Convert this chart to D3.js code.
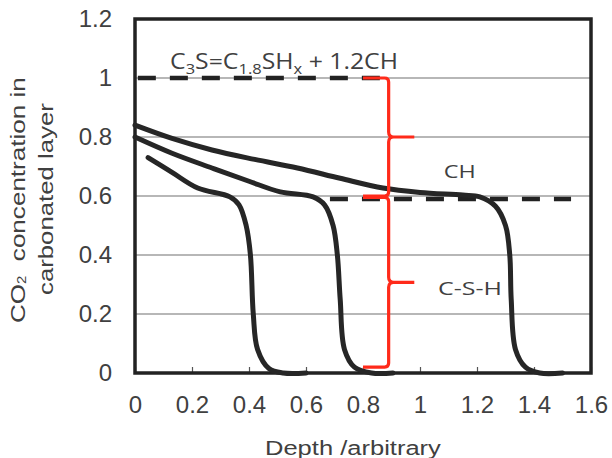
<!DOCTYPE html>
<html>
<head>
<meta charset="utf-8">
<script src="https://cdn.jsdelivr.net/npm/d3@7"></script>
<style>
  body { margin: 0; background: #fff; }
</style>
</head>
<body>
<svg id="chart" width="612" height="458"></svg>
<script>
// data
const xTicks = [0, 0.2, 0.4, 0.6, 0.8, 1, 1.2, 1.4, 1.6];
const yTicks = [0, 0.2, 0.4, 0.6, 0.8, 1, 1.2];

// profile at longest exposure
const depthLong = [0, 0.13, 0.27, 0.42, 0.57, 0.72, 0.87, 1.0, 1.15, 1.21, 1.265, 1.30, 1.315, 1.32, 1.335, 1.37, 1.42, 1.50];
const concLong  = [0.84, 0.795, 0.756, 0.724, 0.695, 0.660, 0.627, 0.612, 0.603, 0.597, 0.565, 0.50, 0.40, 0.25, 0.08, 0.02, 0.0, 0.0];

// profile at medium exposure
const depthMid = [0, 0.13, 0.27, 0.40, 0.51, 0.625, 0.665, 0.695, 0.71, 0.72, 0.735, 0.77, 0.83, 0.905];
const concMid  = [0.80, 0.745, 0.695, 0.65, 0.614, 0.597, 0.57, 0.50, 0.40, 0.25, 0.08, 0.02, 0, 0];

// profile at short exposure
const depthShort = [0.046, 0.13, 0.22, 0.333, 0.365, 0.39, 0.405, 0.415, 0.43, 0.47, 0.52, 0.60];
const concShort  = [0.73, 0.68, 0.627, 0.597, 0.57, 0.50, 0.40, 0.20, 0.08, 0.015, 0, 0];

// dashed reference levels
const levelTop = {y: 1.0, from: 0.01, to: 0.87};
const levelCH  = {y: 0.59, from: 0.684, to: 1.53};

// braces: [top, bottom] in concentration units
const braceX = 0.89;
const braces = [[1.0, 0.6], [0.595, 0.02]];

const width = 612, height = 458;
const margin = {left: 135, right: 21, top: 19, bottom: 85};
const w = width - margin.left - margin.right;
const h = height - margin.top - margin.bottom;

const axisFont = '"Liberation Sans", Arial, sans-serif';
const noteFont = '"Open Sans", sans-serif';
const textColor = '#404040';

const svg = d3.select('#chart');
const g = svg.append('g').attr('transform', `translate(${margin.left},${margin.top})`);

const x = d3.scaleLinear().domain([0, 1.6]).range([0, w]);
const y = d3.scaleLinear().domain([0, 1.2]).range([h, 0]);

//stretch a text node along its own direction to a target length
function fitLength(sel, target) {
  const n = sel.node();
  const len = n.getComputedTextLength();
  const k = target / len;
  const prev = sel.attr('transform') || '';
  sel.attr('transform', prev + ` scale(${k},1)`);
}

//grid lines
g.append('g').selectAll('line')
  .data(yTicks.slice(1, -1))
  .enter().append('line')
  .attr('x1', 0).attr('x2', w)
  .attr('y1', d => y(d)).attr('y2', d => y(d))
  .attr('stroke', '#707070').attr('stroke-width', 1.2);

//x axis, ticks pointing into the plot
const xAxis = g.append('g')
  .attr('transform', `translate(0,${h})`)
  .call(d3.axisBottom(x).tickValues(xTicks).tickSize(-6).tickPadding(23)
    .tickFormat(d => d3.format('~g')(d)));
xAxis.select('.domain').remove();
xAxis.selectAll('line').attr('stroke', '#555').attr('stroke-width', 1.2);
xAxis.selectAll('text')
  .attr('font-family', axisFont)
  .attr('font-size', 24).attr('fill', textColor);

const yAxis = g.append('g')
  .call(d3.axisLeft(y).tickValues(yTicks).tickSize(0).tickPadding(23)
    .tickFormat(d => d3.format('~g')(d)));
yAxis.select('.domain').remove();
yAxis.selectAll('text')
  .attr('font-family', axisFont)
  .attr('font-size', 24).attr('fill', textColor);

//frame
g.append('rect')
  .attr('x', 0).attr('y', 0).attr('width', w).attr('height', h)
  .attr('fill', 'none').attr('stroke', '#222').attr('stroke-width', 3.5);

//dashed levels
for (const lv of [levelTop, levelCH]) {
  g.append('line')
    .attr('x1', x(lv.from)).attr('x2', x(lv.to))
    .attr('y1', y(lv.y)).attr('y2', y(lv.y))
    .attr('stroke', '#222').attr('stroke-width', 4.5)
    .attr('stroke-dasharray', '18,14');
}

//profiles
const line = d3.line()
  .x(d => x(d[0])).y(d => y(d[1]))
  .curve(d3.curveCatmullRom.alpha(0.5));

for (const [ds, cs] of [[depthLong, concLong], [depthMid, concMid], [depthShort, concShort]]) {
  g.append('path')
    .datum(d3.zip(ds, cs))
    .attr('d', line)
    .attr('fill', 'none')
    .attr('stroke', '#262626')
    .attr('stroke-width', 5)
    .attr('stroke-linecap', 'round')
    .attr('stroke-linejoin', 'round');
}

//red braces
const bx = x(braceX);
const hook = x(braceX) - x(0.8);
const tip = x(0.98) - x(braceX);
for (const [top, bot] of braces) {
  const yt = y(top), yb = y(bot), ym = (yt + yb) / 2;
  const p = d3.path();
  p.moveTo(bx - hook, yt);
  p.lineTo(bx - 4, yt);
  p.quadraticCurveTo(bx, yt, bx, yt + 4);
  p.lineTo(bx, ym - 5);
  p.quadraticCurveTo(bx, ym, bx + 5, ym);
  p.lineTo(bx + tip, ym);
  p.moveTo(bx + 5, ym);
  p.quadraticCurveTo(bx, ym, bx, ym + 5);
  p.lineTo(bx, yb - 4);
  p.quadraticCurveTo(bx, yb, bx - 4, yb);
  p.lineTo(bx - hook, yb);
  g.append('path')
    .attr('d', p.toString())
    .attr('fill', 'none')
    .attr('stroke', '#ff2a1a')
    .attr('stroke-width', 3.2)
    .attr('stroke-linejoin', 'round');
}

//annotations
const eq = g.append('text')
  .attr('transform', `translate(${x(0.123)},${y(1.03)})`)
  .attr('font-family', noteFont).attr('font-size', 21).attr('fill', textColor);
eq.append('tspan').text('C');
eq.append('tspan').text('3').attr('font-size', 14).attr('dy', 5);
eq.append('tspan').text('S=C').attr('dy', -5);
eq.append('tspan').text('1.8').attr('font-size', 14).attr('dy', 5);
eq.append('tspan').text('SH').attr('dy', -5);
eq.append('tspan').text('x').attr('font-size', 14).attr('dy', 5);
eq.append('tspan').text(' + 1.2CH').attr('dy', -5);
fitLength(eq, 228);

const chLabel = g.append('text')
  .attr('transform', `translate(${x(1.083)},${y(0.662)})`)
  .attr('font-family', noteFont).attr('font-size', 19).attr('fill', textColor)
  .text('CH');
fitLength(chLabel, 32);

const cshLabel = g.append('text')
  .attr('transform', `translate(${x(1.063)},${y(0.264)})`)
  .attr('font-family', noteFont).attr('font-size', 19).attr('fill', textColor)
  .text('C-S-H');
fitLength(cshLabel, 64);

//axis titles
const xTitle = svg.append('text')
  .attr('transform', 'translate(265,455)')
  .attr('font-family', axisFont)
  .attr('font-size', 21).attr('fill', textColor)
  .text('Depth /arbitrary');
fitLength(xTitle, 176);

const yTitle1 = svg.append('text')
  .attr('transform', 'translate(25,323) rotate(-90)')
  .attr('font-family', axisFont)
  .attr('font-size', 21).attr('fill', textColor);
yTitle1.append('tspan').text('CO');
yTitle1.append('tspan').text('2').attr('font-size', 12).attr('dy', 1);
yTitle1.append('tspan').text('  concentration in').attr('dy', -1)
  .style('white-space', 'pre');
yTitle1.attr('xml:space', 'preserve');
fitLength(yTitle1, 246);

const yTitle2 = svg.append('text')
  .attr('transform', 'translate(53,295) rotate(-90)')
  .attr('font-family', axisFont)
  .attr('font-size', 21).attr('fill', textColor)
  .text('carbonated layer');
fitLength(yTitle2, 192);
</script>
</body>
</html>
